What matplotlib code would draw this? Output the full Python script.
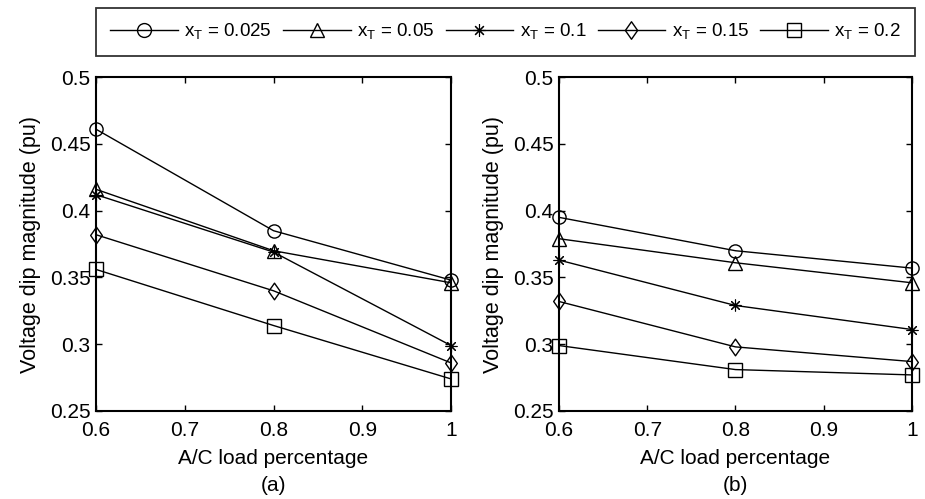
import matplotlib
matplotlib.use("Agg")
import matplotlib.pyplot as plt
from matplotlib.path import Path

plt.rcParams["font.family"] = ["Liberation Sans", "DejaVu Sans"]
plt.rcParams["mathtext.fontset"] = "custom"
plt.rcParams["mathtext.rm"] = "Liberation Sans"

# A/C load share and dip magnitudes for each transformer reactance
load = [0.6, 0.8, 1.0]
xt_labels = ["0.025", "0.05", "0.1", "0.15", "0.2"]
dip_a = [
    [0.461, 0.385, 0.348],
    [0.416, 0.370, 0.346],
    [0.412, 0.369, 0.299],
    [0.382, 0.340, 0.286],
    [0.356, 0.314, 0.274],
]
dip_b = [
    [0.395, 0.370, 0.357],
    [0.379, 0.361, 0.346],
    [0.363, 0.329, 0.311],
    [0.332, 0.298, 0.287],
    [0.299, 0.281, 0.277],
]

# matlab-like markers: open circle, triangle, asterisk, diamond, square
diamond = Path([(0, 1), (0.7, 0), (0, -1), (-0.7, 0), (0, 1)],
               [Path.MOVETO, Path.LINETO, Path.LINETO, Path.LINETO, Path.CLOSEPOLY])
markers = ["o", "^", (8, 2, 0), diamond, "s"]
msizes = [9.5, 9.5, 8.5, 12, 9.5]

fig = plt.figure(figsize=(9.25, 4.99), dpi=100)
ax_a = fig.add_axes([0.1038, 0.1764, 0.3838, 0.669])
ax_b = fig.add_axes([0.6043, 0.1764, 0.3816, 0.669])

handles = []
for ax, data, tag in [(ax_a, dip_a, "(a)"), (ax_b, dip_b, "(b)")]:
    for vals, m, ms, lab in zip(data, markers, msizes, xt_labels):
        ln, = ax.plot(load, vals, color="black", lw=1.0, marker=m, ms=ms,
                      mfc="none", mec="black",
                      mew=0.8 if isinstance(m, tuple) else 1.0,
                      clip_on=False, zorder=3,
                      label=r"x$_{\mathregular{T}}$ = " + lab)
        if ax is ax_a:
            handles.append(ln)
    ax.set_xlim(0.6, 1.0)
    ax.set_ylim(0.25, 0.5)
    ax.set_xticks([0.6, 0.7, 0.8, 0.9, 1.0])
    ax.set_xticklabels(["0.6", "0.7", "0.8", "0.9", "1"])
    ax.set_yticks([0.25, 0.3, 0.35, 0.4, 0.45, 0.5])
    ax.set_yticklabels(["0.25", "0.3", "0.35", "0.4", "0.45", "0.5"])
    ax.tick_params(direction="in", top=True, right=True, length=4,
                   width=1.0, labelsize=15)
    ax.tick_params(axis="x", pad=7)
    ax.tick_params(axis="y", pad=4)
    for sp in ax.spines.values():
        sp.set_linewidth(1.5)
    ax.set_xlabel("A/C load percentage" + "\n" + tag, fontsize=15,
                  linespacing=1.5, labelpad=7)
    ax.set_ylabel("Voltage dip magnitude (pu)", fontsize=15.5, labelpad=6)

leg = fig.legend(handles=handles, loc="center", ncol=5,
                 bbox_to_anchor=(0.5465, 0.936), fontsize=13.5, frameon=True,
                 fancybox=False, edgecolor="black", handlelength=3.6,
                 columnspacing=0.6, handletextpad=0.35, borderpad=0.75,
                 markerscale=1.05)
leg.get_frame().set_linewidth(1.3)

fig.savefig("out.png", dpi=100)
